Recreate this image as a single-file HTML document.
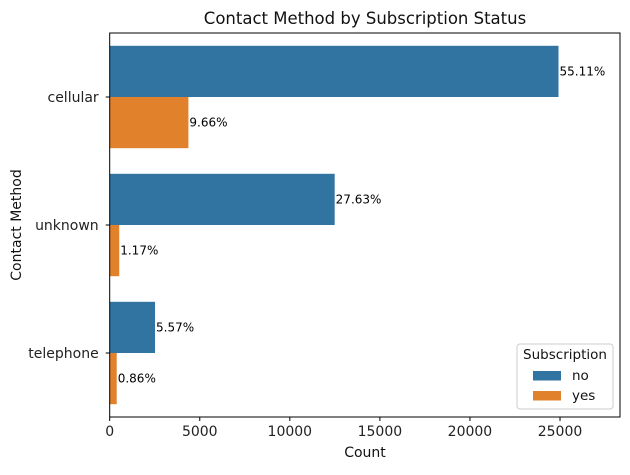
<!DOCTYPE html>
<html><head><meta charset="utf-8"><style>
body{margin:0;background:#fff;position:relative;}
svg{font-family:"DejaVu Sans","Liberation Sans",sans-serif;}
</style></head><body>
<svg id="chart" width="630" height="470" xmlns="http://www.w3.org/2000/svg"></svg>
<script>
const categories = ["cellular","unknown","telephone"];
const noValues = [24916, 12490, 2516];
const yesValues = [4369, 530, 390];
const noLabels = ["55.11%","27.63%","5.57%"];
const yesLabels = ["9.66%","1.17%","0.86%"];
const xTicks = [0,5000,10000,15000,20000,25000];

const svg = document.getElementById('chart');
const NS = 'http://www.w3.org/2000/svg';
const L=109.7, R=620, T=33, B=417, XMAX=28330;
const x = v => L + v/XMAX*(R-L);
const band = (B-T)/categories.length;
const yc = i => T + band*(i+0.5);
const bh = band*0.4;
function mk(tag, attrs, text){const e=document.createElementNS(NS,tag);for(const k in attrs)e.setAttribute(k,attrs[k]);if(text!==undefined)e.textContent=text;svg.appendChild(e);return e;}

categories.forEach((c,i)=>{
  const b1=mk('rect',{x:L,y:yc(i)-bh,width:x(noValues[i])-L,height:bh,fill:'#3274a1'});
  
  
  const b2=mk('rect',{x:L,y:yc(i),width:x(yesValues[i])-L,height:bh,fill:'#e1812c'});
  
  
  const t1=mk('text',{x:x(noValues[i])+1,y:yc(i)-bh/2+4,'font-size':'12'},noLabels[i]);
  
  
  const t2=mk('text',{x:x(yesValues[i])+1,y:yc(i)+bh/2+4,'font-size':'12'},yesLabels[i]);
  
  
  mk('line',{x1:L-4,x2:L,y1:yc(i),y2:yc(i),stroke:'#000'});
  const tl=mk('text',{x:L-11,y:yc(i)+5,'font-size':'14','text-anchor':'end',fill:'#222'},c);
  
  
});
xTicks.forEach(v=>{
  mk('line',{x1:x(v),x2:x(v),y1:B,y2:B+4,stroke:'#000'});
  const t=mk('text',{x:x(v),y:B+19,'font-size':'14','text-anchor':'middle',fill:'#222'},String(v));
  
  
});
const fr=mk('rect',{x:L,y:T,width:R-L,height:B-T,fill:'none',stroke:'#000','stroke-width':'1'});


</script>
<svg width="630" height="470" style="position:absolute;left:0;top:0" font-family="DejaVu Sans, Liberation Sans, sans-serif">
<text x="365" y="24" font-size="16.5" text-anchor="middle" fill="#111">Contact Method by Subscription Status</text>
<text x="365" y="457" font-size="14" text-anchor="middle" fill="#111">Count</text>
<text transform="translate(21,225) rotate(-90)" font-size="14" text-anchor="middle" fill="#111">Contact Method</text>
<g>
<rect x="517" y="344" width="96" height="65" rx="3" fill="#fff" fill-opacity="0.8" stroke="#ccc"/>
<text x="565" y="359" font-size="13.5" text-anchor="middle" fill="#111">Subscription</text>
<rect x="533" y="371" width="28" height="9.5" fill="#3274a1"/>
<text x="572" y="380" font-size="13.5" fill="#111">no</text>
<rect x="533" y="391" width="28" height="9.5" fill="#e1812c"/>
<text x="572" y="400" font-size="13.5" fill="#111">yes</text>
</g>
</svg>
</body></html>
